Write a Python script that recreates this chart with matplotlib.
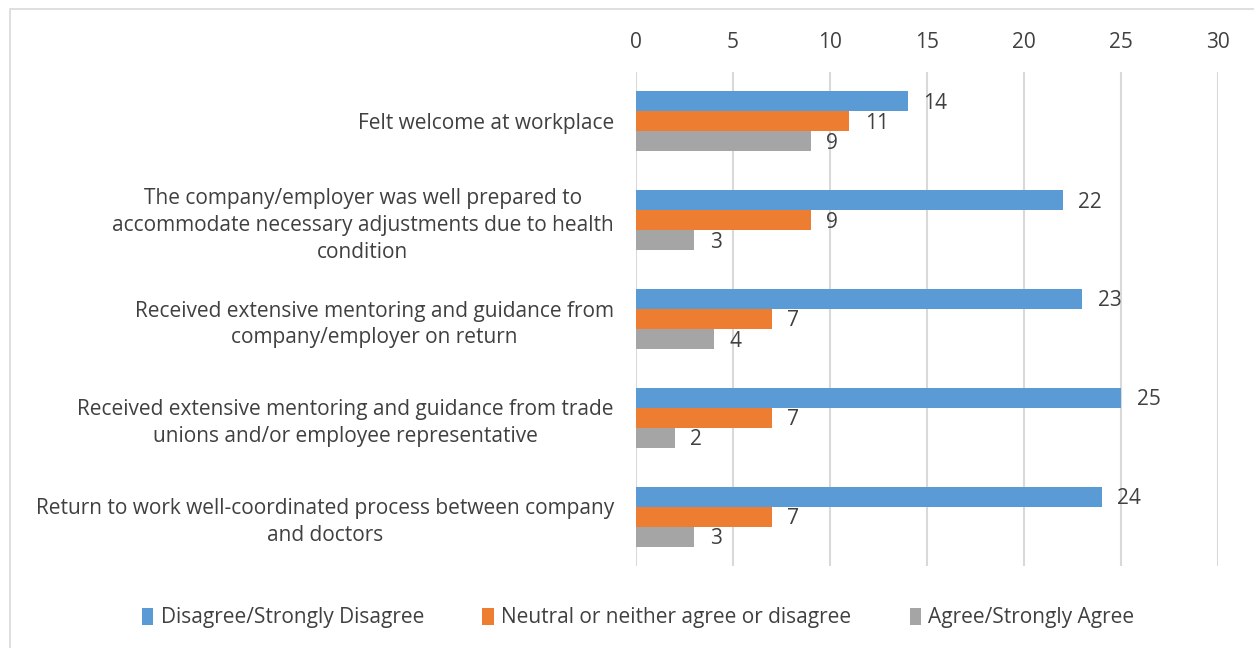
import matplotlib.pyplot as plt
import matplotlib.patches as mpatches
import numpy as np

categories = [
    "Felt welcome at workplace",
    "The company/employer was well prepared to\naccommodate necessary adjustments due to health\ncondition",
    "Received extensive mentoring and guidance from\ncompany/employer on return",
    "Received extensive mentoring and guidance from trade\nunions and/or employee representative",
    "Return to work well-coordinated process between company\nand doctors",
]
series_names = ["Disagree/Strongly Disagree",
                "Neutral or neither agree or disagree",
                "Agree/Strongly Agree"]
disagree = [14, 22, 23, 25, 24]
neutral = [11, 9, 7, 7, 7]
agree = [9, 3, 4, 2, 3]
colors = ["#5B9BD5", "#ED7D31", "#A5A5A5"]
text_color = "#404040"

plt.rcParams['font.family'] = ['Open Sans', 'DejaVu Sans']

fig = plt.figure(figsize=(12.54, 6.48), dpi=100)
ax = fig.add_axes([636 / 1254, 1 - 566 / 648, (1218 - 636) / 1254, (566 - 72) / 648])

# light frame around the chart area
fig.patches.append(mpatches.Rectangle((10 / 1254, -0.05), 1.2, 1 - 9 / 648 + 0.05,
                                      transform=fig.transFigure, fill=False,
                                      edgecolor="#D9D9D9", lw=1.2))

y = np.arange(len(categories))
h = 0.203
for i, (vals, name, c) in enumerate(zip([disagree, neutral, agree], series_names, colors)):
    pos = y + (i - 1) * h
    ax.barh(pos, vals, height=h, color=c, label=name, zorder=3)
    for p, v in zip(pos, vals):
        ax.text(v + 0.8, p + 0.02, str(v), va="center", ha="left",
                fontsize=15, color=text_color)

ax.set_xlim(0, 30)
ax.set_ylim(len(categories) - 0.5, -0.5)
ax.set_xticks(range(0, 31, 5))
ax.xaxis.tick_top()
ax.tick_params(axis="x", length=0, pad=14, labelsize=15, labelcolor=text_color)
ax.tick_params(axis="y", length=0, pad=16)
ax.set_yticks(y)
ax.set_yticklabels(categories, fontsize=15, color=text_color,
                   multialignment="center", linespacing=1.35)
ax.grid(axis="x", color="#D9D9D9", lw=1.5, zorder=0)
for s in ax.spines.values():
    s.set_visible(False)

fig.legend(loc="center", bbox_to_anchor=(0.509, 1 - 618 / 648), ncol=3, frameon=False,
           fontsize=15, labelcolor=text_color, handlelength=0.55, handleheight=0.9,
           handletextpad=0.35, columnspacing=2.8)

fig.savefig("out.png", dpi=100)
